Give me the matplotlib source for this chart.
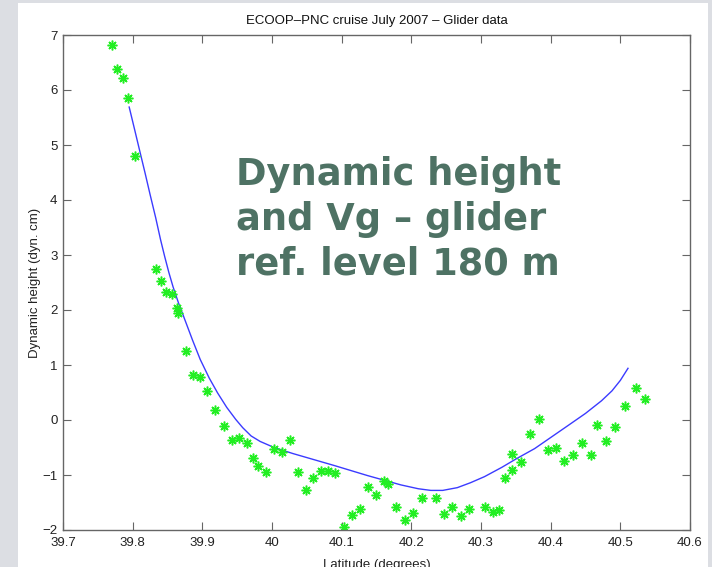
import numpy as np
import matplotlib
matplotlib.use("Agg")
import matplotlib.pyplot as plt
from matplotlib.patches import Rectangle

# glider dynamic height samples (green asterisks)
lat_obs = [39.770, 39.778, 39.786, 39.794, 39.804, 39.833, 39.841, 39.848, 39.856,
           39.864, 39.865, 39.876, 39.886, 39.897, 39.907, 39.918, 39.931, 39.943,
           39.953, 39.964, 39.973, 39.980, 39.991, 40.003, 40.014, 40.026, 40.038,
           40.049, 40.059, 40.070, 40.081, 40.091, 40.103, 40.115, 40.126, 40.138,
           40.149, 40.161, 40.166, 40.178, 40.191, 40.203, 40.215, 40.236, 40.247,
           40.259, 40.271, 40.283, 40.306, 40.317, 40.326, 40.335, 40.344, 40.344,
           40.358, 40.371, 40.383, 40.396, 40.407, 40.419, 40.432, 40.445, 40.458,
           40.466, 40.480, 40.493, 40.507, 40.522, 40.536]
dh_obs = [6.81, 6.39, 6.21, 5.86, 4.80, 2.74, 2.53, 2.32, 2.29,
          2.03, 1.94, 1.26, 0.81, 0.78, 0.52, 0.18, -0.10, -0.36,
          -0.32, -0.42, -0.69, -0.84, -0.94, -0.53, -0.58, -0.36, -0.95,
          -1.27, -1.06, -0.93, -0.93, -0.97, -1.95, -1.73, -1.62, -1.21,
          -1.36, -1.11, -1.17, -1.59, -1.81, -1.69, -1.42, -1.41, -1.71,
          -1.58, -1.74, -1.62, -1.59, -1.67, -1.64, -1.05, -0.91, -0.62,
          -0.77, -0.25, 0.01, -0.55, -0.50, -0.74, -0.64, -0.41, -0.64,
          -0.09, -0.38, -0.12, 0.26, 0.59, 0.38]

# smoothed curve (blue line)
lat_fit = [39.795, 39.803, 39.810, 39.818, 39.825, 39.833, 39.840, 39.846, 39.852,
           39.858, 39.866, 39.875, 39.886, 39.897, 39.910, 39.922, 39.935, 39.948,
           39.958, 39.970, 39.983, 40.003, 40.030, 40.060, 40.090, 40.137, 40.185,
           40.210, 40.228, 40.245, 40.266, 40.285, 40.305, 40.330, 40.350, 40.377,
           40.401, 40.425, 40.450, 40.473, 40.488, 40.500, 40.511]
dh_fit = [5.69, 5.27, 4.90, 4.48, 4.10, 3.68, 3.28, 2.97, 2.68,
          2.42, 2.12, 1.82, 1.45, 1.10, 0.76, 0.49, 0.23, 0.01,
          -0.14, -0.29, -0.39, -0.50, -0.61, -0.72, -0.83, -1.01, -1.18,
          -1.25, -1.28, -1.28, -1.23, -1.14, -1.03, -0.86, -0.71, -0.52,
          -0.31, -0.10, 0.12, 0.35, 0.53, 0.72, 0.94]

W, H = 712, 567
fig = plt.figure(figsize=(W / 100, H / 100), dpi=100, facecolor="#dcdee3")
fig.patches.append(Rectangle((18 / W, 0), 690 / W, 1 - 3 / H, transform=fig.transFigure,
                             facecolor="white", edgecolor="none", zorder=-10))

ax = fig.add_axes([63 / W, 1 - 530 / H, 627 / W, 495 / H])
ax.plot(lat_fit, dh_fit, color="#3b3bff", lw=1.0)
ax.plot(lat_obs, dh_obs, linestyle="none", marker=(8, 2, 0), markersize=7,
        markeredgewidth=1.1, color="#22ee22")

ax.set_xlim(39.7, 40.6)
ax.set_ylim(-2, 7)
ax.set_xticks(np.arange(39.7, 40.61, 0.1))
ax.set_xticklabels(["39.7", "39.8", "39.9", "40", "40.1", "40.2", "40.3", "40.4", "40.5", "40.6"])
ax.set_yticks(range(-2, 8))
ax.set_yticklabels(["\u22122", "\u22121", "0", "1", "2", "3", "4", "5", "6", "7"])
ax.tick_params(direction="in", length=6, top=True, right=True, labelsize=9.5,
               colors="#666666", labelcolor="#222222")
ax.tick_params(axis="x", pad=5)
ax.tick_params(axis="y", pad=4)
for s in ax.spines.values():
    s.set_color("#666666")
    s.set_linewidth(1.0)

for lbl in ax.get_xticklabels() + ax.get_yticklabels():
    lbl.set_family("Liberation Sans")

ax.set_title("ECOOP\u2013PNC cruise July 2007 \u2013 Glider data", fontsize=9.5,
             family="Liberation Sans", color="#111111", pad=8)
ax.set_xlabel("Latitude (degrees)", fontsize=9.5, family="Liberation Sans", color="#222222", labelpad=7)
ax.set_ylabel("Dynamic height (dyn. cm)", fontsize=9.5, family="Liberation Sans", color="#222222", labelpad=1)

fig.text(236 / W, 1 - 156 / H, "Dynamic height\nand Vg \u2013 glider\nref. level 180 m",
         fontsize=26.5, fontweight="bold", family="DejaVu Sans", color="#4e7264",
         ha="left", va="top", linespacing=1.27)

fig.savefig("out.png", dpi=100, facecolor=fig.get_facecolor())
